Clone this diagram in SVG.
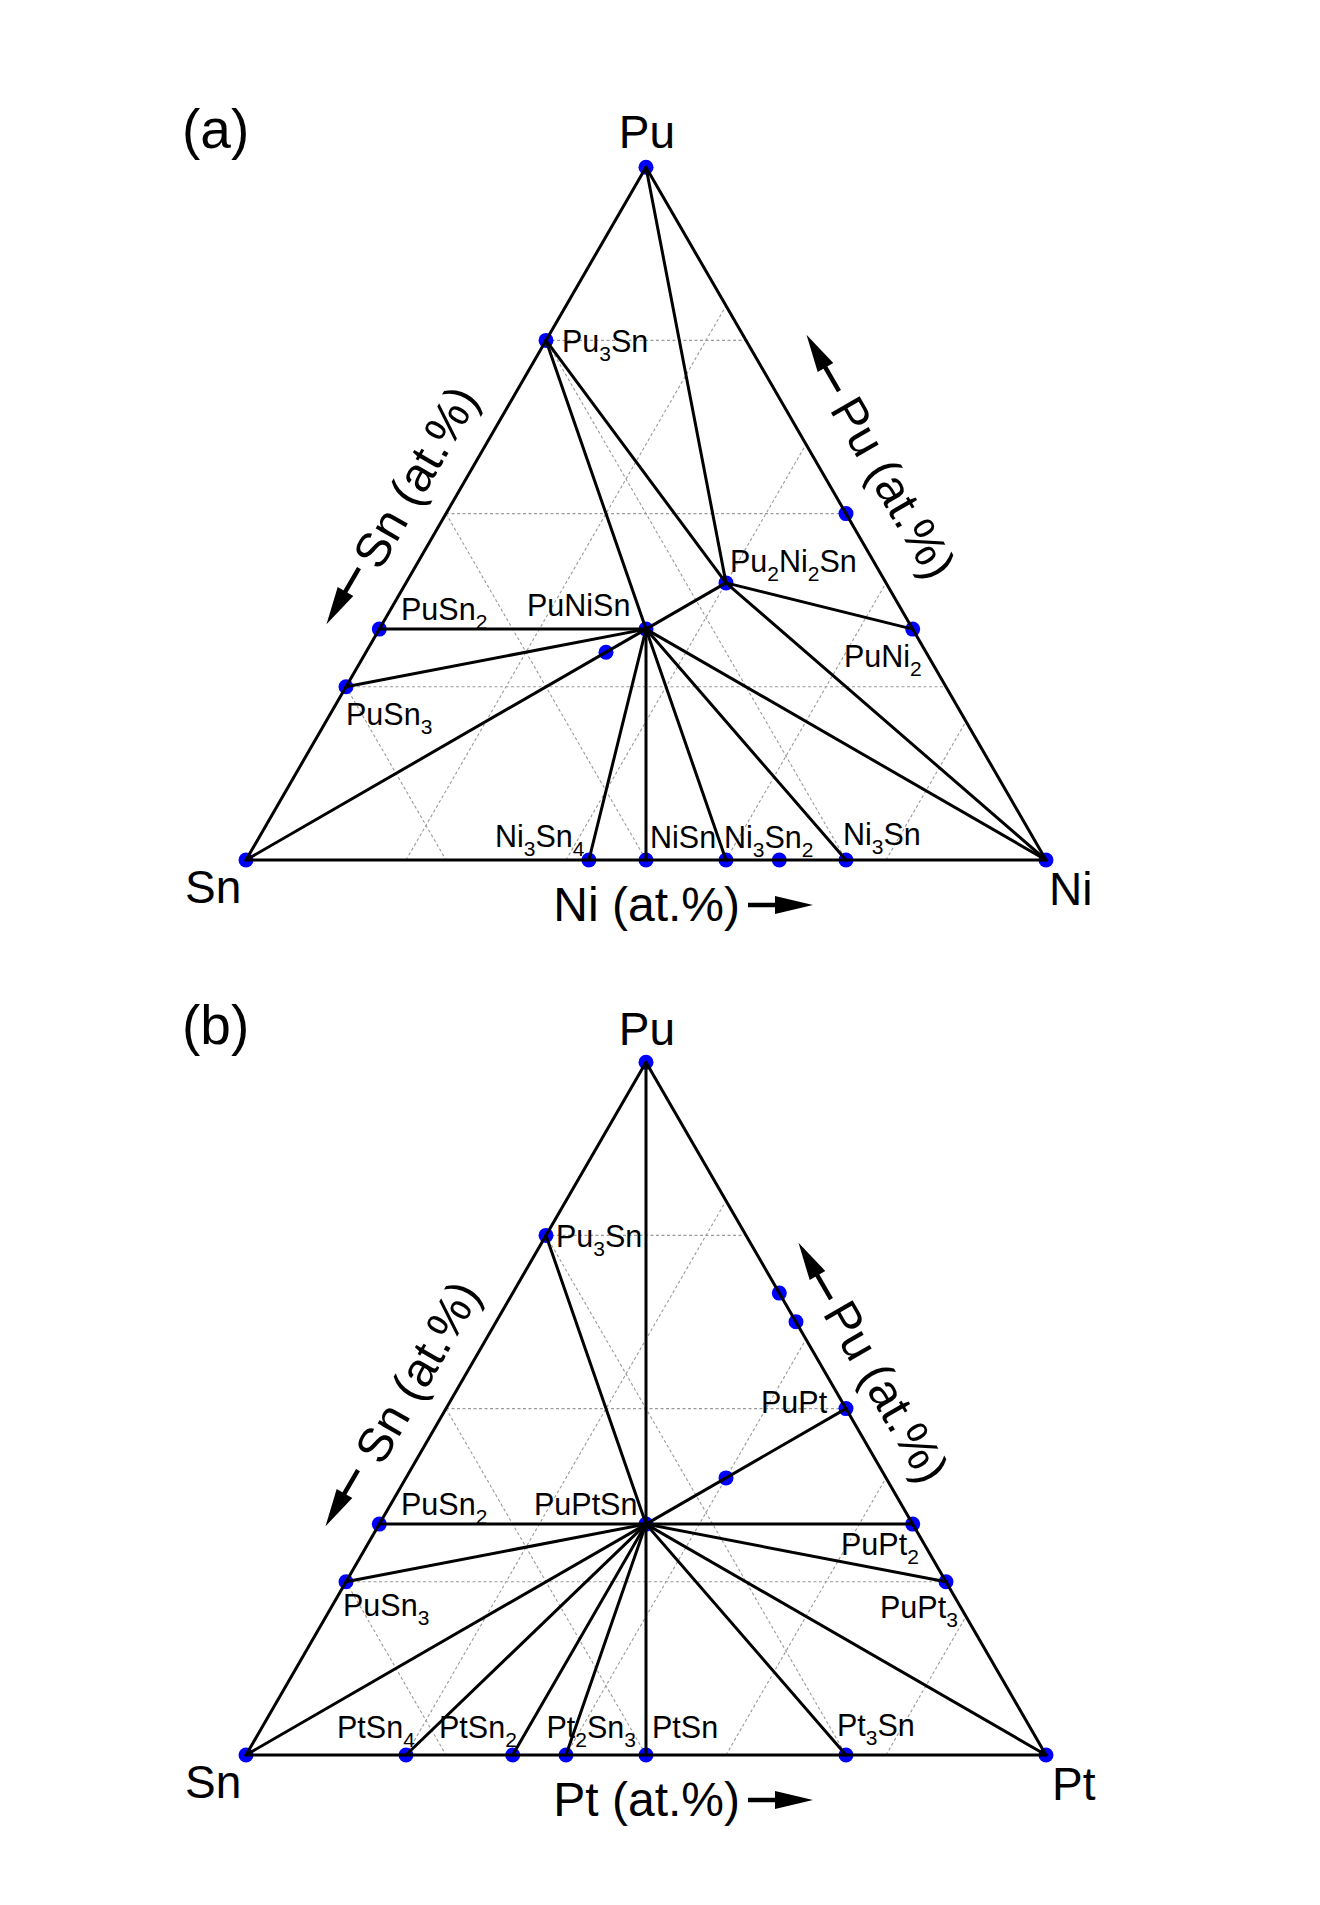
<svg xmlns="http://www.w3.org/2000/svg" xmlns:xlink="http://www.w3.org/1999/xlink" width="1320" height="1905" viewBox="0 0 1320 1905">
<defs>
<style>
.edge{stroke:#000;stroke-width:3;fill:none;stroke-linejoin:round}
.tie{stroke:#000;stroke-width:3;fill:none;stroke-linecap:round}
.grid{stroke:#9a9a9a;stroke-width:1.1;stroke-dasharray:3 2.5;fill:none}
.dot{fill:#0000ff}
text{font-family:"Liberation Sans",Arial,Helvetica,sans-serif;fill:#000}
.lbl{font-size:30.5px}
.sub{font-size:21px}
.big{font-size:46px}
.axis{font-size:48px}
.panel{font-size:55px}
</style>
<g id="arrow">
<line x1="0" y1="0" x2="30" y2="0" stroke="#000" stroke-width="4.5"/>
<polygon points="27,-9 65,0 27,9" fill="#000"/>
</g>
</defs>
<rect width="1320" height="1905" fill="#fff"/>

<!-- grids -->
<g id="grid-a" class="grid">
<line x1="346" y1="686.8" x2="946" y2="686.8"/>
<line x1="446" y1="513.6" x2="846" y2="513.6"/>
<line x1="546" y1="340.4" x2="746" y2="340.4"/>
<line x1="546" y1="340.4" x2="846" y2="860"/>
<line x1="446" y1="513.6" x2="646" y2="860"/>
<line x1="346" y1="686.8" x2="446" y2="860"/>
<line x1="406" y1="860" x2="726" y2="305.8"/>
<line x1="566" y1="860" x2="806" y2="444.3"/>
<line x1="726" y1="860" x2="886" y2="582.9"/>
<line x1="886" y1="860" x2="966" y2="721.4"/>
</g>
<g id="grid-b" class="grid" transform="translate(0,895)">
<line x1="346" y1="686.8" x2="946" y2="686.8"/>
<line x1="446" y1="513.6" x2="846" y2="513.6"/>
<line x1="546" y1="340.4" x2="746" y2="340.4"/>
<line x1="546" y1="340.4" x2="846" y2="860"/>
<line x1="446" y1="513.6" x2="646" y2="860"/>
<line x1="346" y1="686.8" x2="446" y2="860"/>
<line x1="406" y1="860" x2="726" y2="305.8"/>
<line x1="566" y1="860" x2="806" y2="444.3"/>
<line x1="726" y1="860" x2="886" y2="582.9"/>
<line x1="886" y1="860" x2="966" y2="721.4"/>
</g>

<!-- panel labels and axis labels -->
<text class="panel" x="182" y="148">(a)</text>
<text class="panel" x="182" y="1044">(b)</text>

<text class="axis" x="740" y="921" text-anchor="end">Ni (at.%)</text>
<text class="axis" x="740" y="1816" text-anchor="end">Pt (at.%)</text>
<text class="axis" text-anchor="middle" transform="translate(430,485) rotate(-60)">Sn (at.%)</text>
<text class="axis" text-anchor="middle" transform="translate(432,1380) rotate(-60)">Sn (at.%)</text>
<text class="axis" text-anchor="middle" transform="translate(879,496) rotate(60)">Pu (at.%)</text>
<text class="axis" text-anchor="middle" transform="translate(872,1400) rotate(60)">Pu (at.%)</text>

<use xlink:href="#arrow" transform="translate(748,905)"/>
<use xlink:href="#arrow" transform="translate(748,1800)"/>
<use xlink:href="#arrow" transform="translate(359,568) rotate(120)"/>
<use xlink:href="#arrow" transform="translate(358,1470) rotate(120)"/>
<use xlink:href="#arrow" transform="translate(839,391) rotate(-120)"/>
<use xlink:href="#arrow" transform="translate(831,1299) rotate(-120)"/>

<!-- nodes panel (a) -->
<g id="a-Pu"><circle class="dot" cx="646" cy="167.2" r="7.5"/><text class="big" x="647" y="148" text-anchor="middle">Pu</text></g>
<g id="a-Sn"><circle class="dot" cx="246" cy="860" r="7.5"/><text class="big" x="185" y="903">Sn</text></g>
<g id="a-Ni"><circle class="dot" cx="1046" cy="860" r="7.5"/><text class="big" x="1049" y="905">Ni</text></g>
<g id="a-Pu3Sn"><circle class="dot" cx="546" cy="340.4" r="7.5"/><text class="lbl" x="562" y="352">Pu<tspan class="sub" dy="9">3</tspan><tspan dy="-9">Sn</tspan></text></g>
<g id="a-PuSn2"><circle class="dot" cx="379.3" cy="629.1" r="7.5"/><text class="lbl" x="401" y="620">PuSn<tspan class="sub" dy="9">2</tspan></text></g>
<g id="a-PuSn3"><circle class="dot" cx="346" cy="686.8" r="7.5"/><text class="lbl" x="346" y="725">PuSn<tspan class="sub" dy="9">3</tspan></text></g>
<g id="a-PuNiSn"><circle class="dot" cx="646" cy="629.1" r="7.5"/><text class="lbl" x="527" y="616">PuNiSn</text></g>
<g id="a-Pu2Ni2Sn"><circle class="dot" cx="726" cy="582.9" r="7.5"/><text class="lbl" x="730" y="571.7">Pu<tspan class="sub" dy="9">2</tspan><tspan dy="-9">Ni</tspan><tspan class="sub" dy="9">2</tspan><tspan dy="-9">Sn</tspan></text></g>
<g id="a-PuNi2"><circle class="dot" cx="912.7" cy="629.1" r="7.5"/><text class="lbl" x="844" y="666.7">PuNi<tspan class="sub" dy="9">2</tspan></text></g>
<g id="a-PuNi"><circle class="dot" cx="846" cy="513.6" r="7.5"/></g>
<g id="a-Pu3Ni3Sn4"><circle class="dot" cx="606" cy="652.2" r="7.5"/></g>
<g id="a-Ni3Sn4"><circle class="dot" cx="588.9" cy="860" r="7.5"/><text class="lbl" x="495" y="846.7">Ni<tspan class="sub" dy="9">3</tspan><tspan dy="-9">Sn</tspan><tspan class="sub" dy="9">4</tspan></text></g>
<g id="a-NiSn"><circle class="dot" cx="646" cy="860" r="7.5"/><text class="lbl" x="650" y="848">NiSn</text></g>
<g id="a-Ni3Sn2"><circle class="dot" cx="726" cy="860" r="7.5"/><text class="lbl" x="724" y="848">Ni<tspan class="sub" dy="9">3</tspan><tspan dy="-9">Sn</tspan><tspan class="sub" dy="9">2</tspan></text></g>
<g id="a-Ni2Sn"><circle class="dot" cx="779.3" cy="860" r="7.5"/></g>
<g id="a-Ni3Sn"><circle class="dot" cx="846" cy="860" r="7.5"/><text class="lbl" x="843" y="845">Ni<tspan class="sub" dy="9">3</tspan><tspan dy="-9">Sn</tspan></text></g>

<!-- nodes panel (b) -->
<g id="b-Pu"><circle class="dot" cx="646" cy="1062.2" r="7.5"/><text class="big" x="647" y="1045" text-anchor="middle">Pu</text></g>
<g id="b-Sn"><circle class="dot" cx="246" cy="1755" r="7.5"/><text class="big" x="185" y="1798">Sn</text></g>
<g id="b-Pt"><circle class="dot" cx="1046" cy="1755" r="7.5"/><text class="big" x="1052" y="1800">Pt</text></g>
<g id="b-Pu3Sn"><circle class="dot" cx="546" cy="1235.4" r="7.5"/><text class="lbl" x="556" y="1247">Pu<tspan class="sub" dy="9">3</tspan><tspan dy="-9">Sn</tspan></text></g>
<g id="b-PuSn2"><circle class="dot" cx="379.3" cy="1524.1" r="7.5"/><text class="lbl" x="401" y="1515">PuSn<tspan class="sub" dy="9">2</tspan></text></g>
<g id="b-PuSn3"><circle class="dot" cx="346" cy="1581.8" r="7.5"/><text class="lbl" x="343" y="1616">PuSn<tspan class="sub" dy="9">3</tspan></text></g>
<g id="b-PuPtSn"><circle class="dot" cx="646" cy="1524.1" r="7.5"/><text class="lbl" x="534" y="1515">PuPtSn</text></g>
<g id="b-Pu2Pt2Sn"><circle class="dot" cx="726" cy="1477.9" r="7.5"/></g>
<g id="b-PuPt"><circle class="dot" cx="846" cy="1408.6" r="7.5"/><text class="lbl" x="761" y="1413.3">PuPt</text></g>
<g id="b-Pu5Pt3"><circle class="dot" cx="796" cy="1321.8" r="7.5"/></g>
<g id="b-Pu2Pt"><circle class="dot" cx="779.3" cy="1293.1" r="7.5"/></g>
<g id="b-PuPt2"><circle class="dot" cx="912.7" cy="1524.1" r="7.5"/><text class="lbl" x="841" y="1555">PuPt<tspan class="sub" dy="9">2</tspan></text></g>
<g id="b-PuPt3"><circle class="dot" cx="946" cy="1581.8" r="7.5"/><text class="lbl" x="880" y="1618.3">PuPt<tspan class="sub" dy="9">3</tspan></text></g>
<g id="b-PtSn4"><circle class="dot" cx="406" cy="1755" r="7.5"/><text class="lbl" x="337" y="1738.3">PtSn<tspan class="sub" dy="9">4</tspan></text></g>
<g id="b-PtSn2"><circle class="dot" cx="512.7" cy="1755" r="7.5"/><text class="lbl" x="439" y="1738.3">PtSn<tspan class="sub" dy="9">2</tspan></text></g>
<g id="b-Pt2Sn3"><circle class="dot" cx="566" cy="1755" r="7.5"/><text class="lbl" x="546.5" y="1738.3">Pt<tspan class="sub" dy="9">2</tspan><tspan dy="-9">Sn</tspan><tspan class="sub" dy="9">3</tspan></text></g>
<g id="b-PtSn"><circle class="dot" cx="646" cy="1755" r="7.5"/><text class="lbl" x="652" y="1738.3">PtSn</text></g>
<g id="b-Pt3Sn"><circle class="dot" cx="846" cy="1755" r="7.5"/><text class="lbl" x="837" y="1736">Pt<tspan class="sub" dy="9">3</tspan><tspan dy="-9">Sn</tspan></text></g>

<!-- connectors -->
<g id="connectors">
<polygon class="edge" points="646,167.2 246,860 1046,860"/>
<line class="tie" x1="546" y1="340.4" x2="646" y2="629.1"/>
<line class="tie" x1="546" y1="340.4" x2="726" y2="582.9"/>
<line class="tie" x1="646" y1="167.2" x2="726" y2="582.9"/>
<line class="tie" x1="726" y1="582.9" x2="912.7" y2="629.1"/>
<line class="tie" x1="726" y1="582.9" x2="1046" y2="860"/>
<line class="tie" x1="726" y1="582.9" x2="646" y2="629.1"/>
<line class="tie" x1="646" y1="629.1" x2="379.3" y2="629.1"/>
<line class="tie" x1="646" y1="629.1" x2="346" y2="686.8"/>
<line class="tie" x1="646" y1="629.1" x2="246" y2="860"/>
<line class="tie" x1="646" y1="629.1" x2="588.9" y2="860"/>
<line class="tie" x1="646" y1="629.1" x2="646" y2="860"/>
<line class="tie" x1="646" y1="629.1" x2="726" y2="860"/>
<line class="tie" x1="646" y1="629.1" x2="846" y2="860"/>
<line class="tie" x1="646" y1="629.1" x2="1046" y2="860"/>

<polygon class="edge" points="646,1062.2 246,1755 1046,1755"/>
<line class="tie" x1="646" y1="1062.2" x2="646" y2="1755"/>
<line class="tie" x1="646" y1="1524.1" x2="546" y2="1235.4"/>
<line class="tie" x1="646" y1="1524.1" x2="379.3" y2="1524.1"/>
<line class="tie" x1="646" y1="1524.1" x2="346" y2="1581.8"/>
<line class="tie" x1="646" y1="1524.1" x2="246" y2="1755"/>
<line class="tie" x1="646" y1="1524.1" x2="406" y2="1755"/>
<line class="tie" x1="646" y1="1524.1" x2="512.7" y2="1755"/>
<line class="tie" x1="646" y1="1524.1" x2="566" y2="1755"/>
<line class="tie" x1="646" y1="1524.1" x2="846" y2="1755"/>
<line class="tie" x1="646" y1="1524.1" x2="1046" y2="1755"/>
<line class="tie" x1="646" y1="1524.1" x2="946" y2="1581.8"/>
<line class="tie" x1="646" y1="1524.1" x2="912.7" y2="1524.1"/>
<line class="tie" x1="646" y1="1524.1" x2="846" y2="1408.6"/>
</g>
</svg>
